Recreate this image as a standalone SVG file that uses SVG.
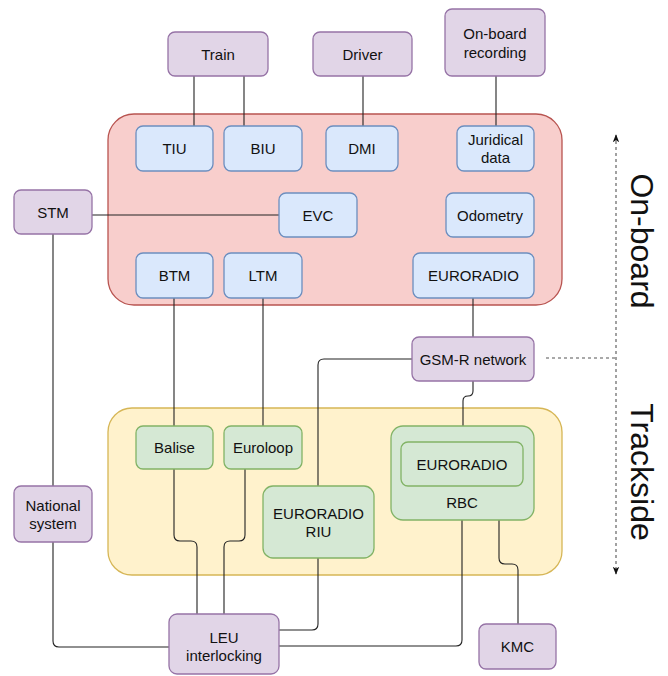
<svg xmlns="http://www.w3.org/2000/svg" width="668" height="676" viewBox="0 0 668 676">
<defs>
<style>
text{font-family:"Liberation Sans",Arial,Helvetica,sans-serif;font-size:15px;fill:#111;text-anchor:middle}
.big{font-size:32px}
.pu{fill:#e1d5e7;stroke:#9673a6;stroke-width:1.3}
.bl{fill:#dae8fc;stroke:#6c8ebf;stroke-width:1.3}
.gr{fill:#d5e8d4;stroke:#82b366;stroke-width:1.3}
.red{fill:#f8cecc;stroke:#b85450;stroke-width:1.3}
.yel{fill:#fff2cc;stroke:#d6b656;stroke-width:1.3}
.c path{fill:none;stroke:#222;stroke-width:1.1}
.d{fill:none;stroke:#555;stroke-width:1.1;stroke-dasharray:3 3}
</style>
<marker id="ah" viewBox="0 0 10 10" refX="9" refY="5" markerWidth="8" markerHeight="8" orient="auto-start-reverse" markerUnits="userSpaceOnUse">
<path d="M0 1 L10 5 L0 9 L2.5 5 Z" fill="#111"/>
</marker>
</defs>
<g id="onboard-container"><rect class="red" x="108" y="114" width="454" height="191" rx="26"/></g>
<g id="trackside-container"><rect class="yel" x="108" y="408" width="454" height="167" rx="24"/></g>

<g class="c" id="connectors">
<path d="M194 76V126"/>
<path d="M244 76V126"/>
<path d="M363 76V126"/>
<path d="M496 76V126"/>
<path d="M92 215H279"/>
<path d="M53 234V486"/>
<path d="M174 298V426"/>
<path d="M263 298V426"/>
<path d="M473 298V337"/>
<path d="M412 359H324Q318 359 318 365V486"/>
<path d="M473 381V391Q473 396 468 396Q463 396 463 401V442"/>
<path d="M174 469V535Q174 541 180 541H191Q197 541 197 547V614"/>
<path d="M245 469V535Q245 541 239 541H230Q224 541 224 547V614"/>
<path d="M318 558V624Q318 630 312 630H279"/>
<path d="M462 519V640Q462 646 456 646H279"/>
<path d="M499 519V558Q499 564 505 564H512Q518 564 518 570V624"/>
<path d="M53 542V641Q53 647 59 647H169"/>
</g>
<g id="dashed">
<path class="d" d="M546 358H616"/>
<path class="d" d="M616 135V574" marker-start="url(#ah)" marker-end="url(#ah)"/>
</g>

<g id="train"><rect class="pu" x="168" y="32" width="100" height="44" rx="7"/><text x="218" y="59.5">Train</text></g>
<g id="driver"><rect class="pu" x="313" y="32" width="99" height="44" rx="7"/><text x="362.5" y="59.5">Driver</text></g>
<g id="recording"><rect class="pu" x="445" y="9" width="100" height="67" rx="7"/><text x="495" y="38.5">On-board</text><text x="495" y="58">recording</text></g>

<g id="tiu"><rect class="bl" x="136" y="126" width="77" height="45" rx="7"/><text x="174.5" y="154">TIU</text></g>
<g id="biu"><rect class="bl" x="224" y="126" width="78" height="45" rx="7"/><text x="263" y="154">BIU</text></g>
<g id="dmi"><rect class="bl" x="326" y="126" width="72" height="45" rx="7"/><text x="362" y="154">DMI</text></g>
<g id="juridical"><rect class="bl" x="457" y="126" width="77" height="45" rx="7"/><text x="495.5" y="144.5">Juridical</text><text x="495.5" y="162.5">data</text></g>
<g id="stm"><rect class="pu" x="14" y="190" width="78" height="44" rx="7"/><text x="53" y="217.5">STM</text></g>
<g id="evc"><rect class="bl" x="279" y="193" width="78" height="44" rx="7"/><text x="318" y="220.5">EVC</text></g>
<g id="odometry"><rect class="bl" x="446" y="193" width="88" height="44" rx="7"/><text x="490" y="220.5">Odometry</text></g>
<g id="btm"><rect class="bl" x="136" y="253" width="77" height="45" rx="7"/><text x="174.5" y="281">BTM</text></g>
<g id="ltm"><rect class="bl" x="224" y="253" width="78" height="45" rx="7"/><text x="263" y="281">LTM</text></g>
<g id="euroradio-onboard"><rect class="bl" x="413" y="253" width="121" height="45" rx="7"/><text x="473.5" y="281">EURORADIO</text></g>
<g id="gsmr"><rect class="pu" x="412" y="337" width="122" height="44" rx="7"/><text x="473" y="364.5">GSM-R network</text></g>

<g id="balise"><rect class="gr" x="136" y="426" width="77" height="43" rx="7"/><text x="174.5" y="453">Balise</text></g>
<g id="euroloop"><rect class="gr" x="224" y="426" width="78" height="43" rx="7"/><text x="263" y="453">Euroloop</text></g>
<g id="rbc"><rect class="gr" x="391" y="426" width="143" height="94" rx="12"/><text x="462" y="507.5">RBC</text></g>
<g id="euroradio-rbc"><rect class="gr" x="401" y="442" width="122" height="44" rx="7"/><text x="462" y="469.5">EURORADIO</text></g>
<g id="euroradio-riu"><rect class="gr" x="263" y="486" width="111" height="72" rx="10"/><text x="318.5" y="518.5">EURORADIO</text><text x="318.5" y="537">RIU</text></g>
<g id="national"><rect class="pu" x="14" y="486" width="78" height="56" rx="7"/><text x="53" y="510.5">National</text><text x="53" y="529">system</text></g>
<g id="leu"><rect class="pu" x="169" y="614" width="110" height="60" rx="8"/><text x="224" y="642.5">LEU</text><text x="224" y="661">interlocking</text></g>
<g id="kmc"><rect class="pu" x="479" y="624" width="77" height="45" rx="7"/><text x="517.5" y="652">KMC</text></g>

<g id="labels">
<text class="big" transform="translate(631 241) rotate(90)">On-board</text>
<text class="big" transform="translate(631 472) rotate(90)">Trackside</text>
</g>
</svg>
